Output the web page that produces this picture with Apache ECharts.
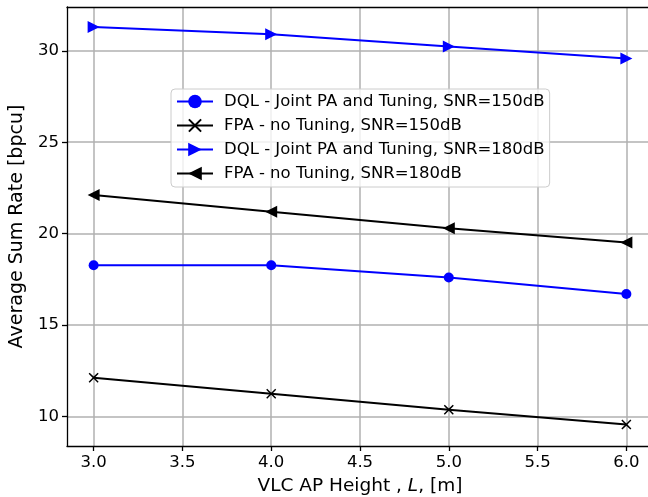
<!DOCTYPE html>
<html><head><meta charset="utf-8">
<script src="https://cdn.jsdelivr.net/npm/echarts@6/dist/echarts.min.js"></script>
<style>html,body{margin:0;padding:0;background:#fff}#c{width:648px;height:497px}</style>
</head><body><div id="c"></div>
<script>
const heights = [3, 4, 5, 6];
const dql150 = [18.27, 18.27, 17.60, 16.70];
const fpa150 = [12.12, 11.24, 10.37, 9.55];
const dql180 = [31.30, 30.91, 30.24, 29.58];
const fpa180 = [22.11, 21.20, 20.30, 19.52];
const xTicks = [3.0, 3.5, 4.0, 4.5, 5.0, 5.5, 6.0];
const yTicks = [10, 15, 20, 25, 30];
const names = [
  'DQL - Joint PA and Tuning, SNR=150dB',
  'FPA - no Tuning, SNR=150dB',
  'DQL - Joint PA and Tuning, SNR=180dB',
  'FPA - no Tuning, SNR=180dB'
];
const FONT = 'DejaVu Sans';
const sym = {
  circle: 'circle',
  cross: 'path://M1,0 L5,3.9 L9,0 L10,1 L6.1,5 L10,9 L9,10 L5,6.1 L1,10 L0,9 L3.9,5 L0,1 Z',
  right: 'path://M0,0 L10,5 L0,10 Z',
  left: 'path://M10,0 L0,5 L10,10 Z'
};
function pairs(ys){ return heights.map((x,i)=>[x, ys[i]]); }
function mk(name, ys, color, symbol, size){
  return {
    name, type:'line', data: pairs(ys), symbol, symbolSize: size,
    lineStyle:{color, width:2}, itemStyle:{color},
    showSymbol:true, animation:false, z: 3
  };
}
const chart = echarts.init(document.getElementById('c'), null, {renderer:'canvas'});
chart.setOption({
  animation:false,
  backgroundColor:'#fff',
  grid:{left:67, top:7, bottom:51, right:-5, outerBoundsMode:'none', containLabel:false, show:false},
  legend:{
    orient:'vertical', left:171, top:89, z:6,
    padding:[4,5,5,5], itemGap:7, itemWidth:36, itemHeight:17,
    backgroundColor:'rgba(255,255,255,0.8)', borderColor:'#cccccc', borderWidth:1, borderRadius:4,
    textStyle:{fontFamily:FONT, fontSize:16.5, color:'#000', padding:[0,0,0,6], lineHeight:17},
    data: names
  },
  xAxis:[{
    type:'value', min:2.85, max:6.15,
    axisLine:{show:true, lineStyle:{color:'#000', width:1.3}},
    axisTick:{show:true, length:5, customValues:xTicks, lineStyle:{color:'#000', width:1.3}},
    axisLabel:{customValues:xTicks, fontFamily:FONT, fontSize:16.5, color:'#000', margin:8,
      formatter:v=>Number(v).toFixed(1)},
    splitLine:{show:true, lineStyle:{color:'#b0b0b0', width:1.5}},
    name:'{a|VLC AP Height , }{b|L}{a|, [m]}', nameLocation:'middle', nameGap:31,
    nameTextStyle:{rich:{a:{fontFamily:FONT, fontSize:18.5, color:'#000'}, b:{fontFamily:FONT, fontSize:18.5, fontStyle:'italic', color:'#000'}}}
  },{
    type:'value', position:'top', min:2.85, max:6.15,
    axisLine:{show:true, onZero:false, lineStyle:{color:'#000', width:1.3}},
    axisTick:{show:false}, axisLabel:{show:false}, splitLine:{show:false}
  }],
  yAxis:{
    type:'value', min:8.38, max:32.4,
    axisLine:{show:true, lineStyle:{color:'#000', width:1.3}},
    axisTick:{show:true, length:5, customValues:yTicks, lineStyle:{color:'#000', width:1.3}},
    axisLabel:{customValues:yTicks, fontFamily:FONT, fontSize:16.5, color:'#000', margin:8},
    splitLine:{show:true, lineStyle:{color:'#b0b0b0', width:1.5}},
    name:'Average Sum Rate [bpcu]', nameLocation:'middle', nameGap:40,
    nameTextStyle:{fontFamily:FONT, fontSize:19, color:'#000'}
  },
  series:[
    mk(names[0], dql150, '#0000ff', sym.circle, 10),
    mk(names[1], fpa150, '#000000', sym.cross, 10),
    mk(names[2], dql180, '#0000ff', sym.right, 12),
    mk(names[3], fpa180, '#000000', sym.left, 12)
  ]
});
</script></body></html>
